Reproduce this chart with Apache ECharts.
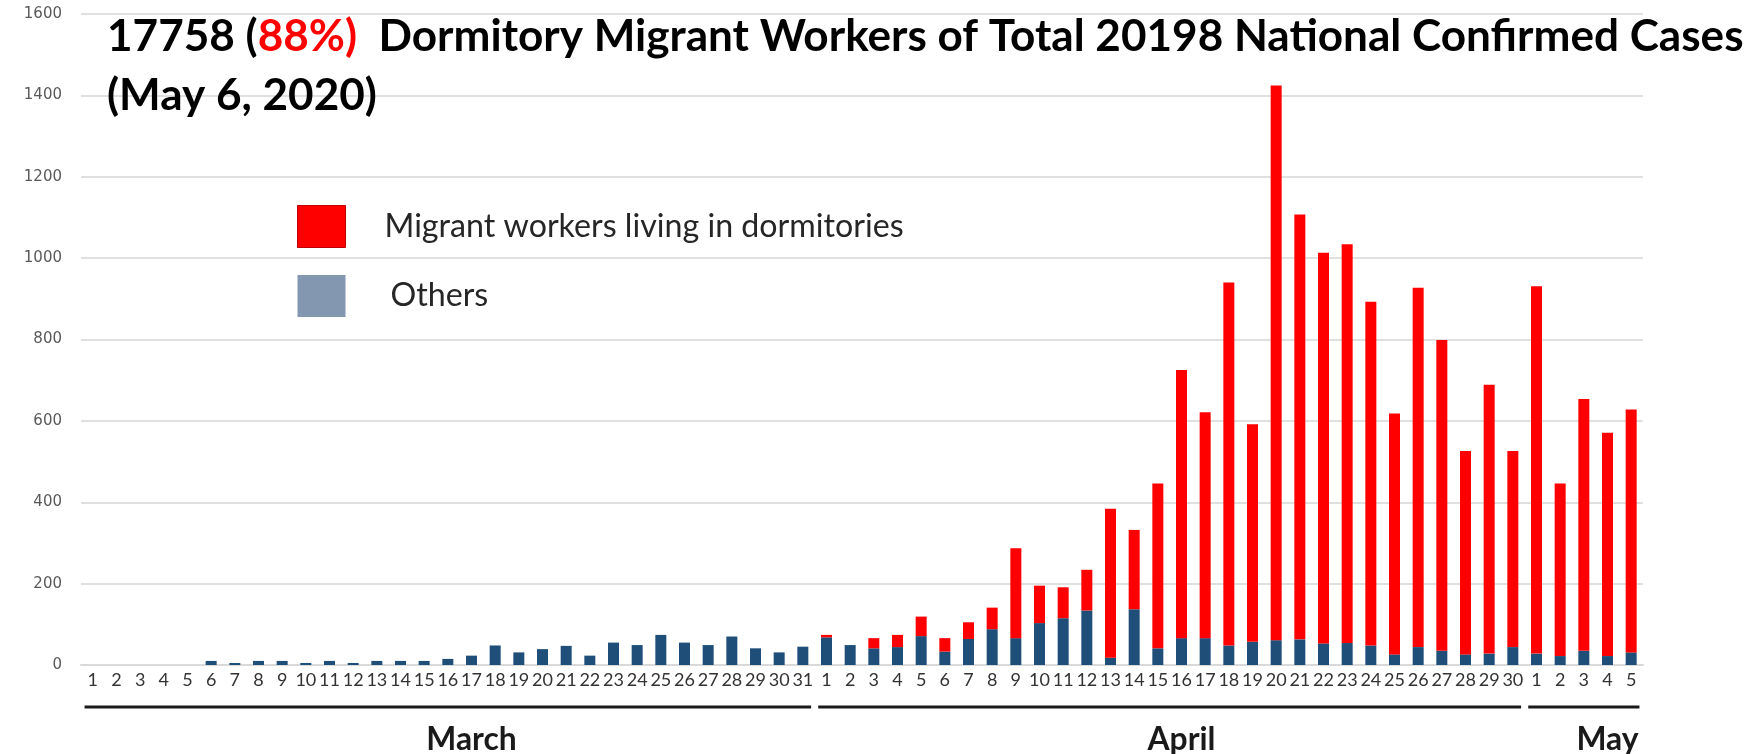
<!DOCTYPE html>
<html>
<head>
<meta charset="utf-8">
<script src="https://cdn.jsdelivr.net/npm/echarts@6/dist/echarts.min.js"></script>
<style>
html,body{margin:0;padding:0;background:#fff;}
#c{width:1757px;height:754px;}
</style>
</head>
<body>
<div id="c"></div>
<script>
// ---------------- data ----------------
const dayLabels = [
 '1','2','3','4','5','6','7','8','9','10','11','12','13','14','15','16','17','18','19','20','21','22','23','24','25','26','27','28','29','30','31',
 '1','2','3','4','5','6','7','8','9','10','11','12','13','14','15','16','17','18','19','20','21','22','23','24','25','26','27','28','29','30',
 '1','2','3','4','5'
];
const monthNames = ['March','April','May'];
const monthDays = [31, 30, 5];
const monthLabelDay = [17, 16, 4];   // day under which the month name sits

const others = [
 0,0,0,0,0,10,5,10,10,5,10,5,10,10,10,15,23,48,31,39,47,23,55,49,74,55,49,70,41,31,45,
 68,49,41,44,71,33,64,88,66,103,115,134,18,137,41,66,66,48,57,61,63,53,54,48,26,44,35,26,28,44,
 28,22,35,22,31
];
const dormitory = [
 0,0,0,0,0,0,0,0,0,0,0,0,0,0,0,0,0,0,0,0,0,0,0,0,0,0,0,0,0,0,0,
 6,0,25,30,48,33,41,53,221,92,76,100,366,195,405,659,555,892,535,1363,1044,960,980,845,592,883,764,500,661,482,
 903,424,619,549,597
];
const yTicks = [0,200,400,600,800,1000,1200,1400,1600];

const seriesNames = ['Migrant workers living in dormitories', 'Others'];
const titleLine1 = ['17758 (', '88%)', '  Dormitory Migrant Workers of Total 20198 National Confirmed Cases'];
const titleLine2 = '(May 6, 2020)';

// ---------------- helpers ----------------
const mctx = document.createElement('canvas').getContext('2d');
function fitSize(text, weight, family, width) {
  mctx.font = weight + ' 100px ' + family;
  const w = mctx.measureText(text).width;
  return Math.round(100 * width / w * 10) / 10;
}
const TITLE_FONT = 'Lato';
const titleSize = fitSize(titleLine1.join(''), 'bold', TITLE_FONT, 1638);
const legendSize = fitSize(seriesNames[0], 'normal', 'Lato', 520);
const monthSize = fitSize('May', 'bold', 'Lato', 62);

const chart = echarts.init(document.getElementById('c'), null, {renderer: 'canvas'});

const option = {
  animation: false,
  backgroundColor: '#ffffff',
  title: {
    left: 102, top: 2.5,
    text: '{b|' + titleLine1[0] + '}{r|' + titleLine1[1] + '}{b|' + titleLine1[2] + '}\n{b|' + titleLine2 + '}',
    textStyle: {
      lineHeight: 59,
      rich: {
        b: {color: '#000', fontSize: titleSize, fontWeight: 'bold', fontFamily: TITLE_FONT, lineHeight: 59},
        r: {color: '#ff0000', fontSize: titleSize, fontWeight: 'bold', fontFamily: TITLE_FONT, lineHeight: 59}
      }
    }
  },
  legend: {
    orient: 'vertical',
    left: 292, top: 200,
    itemWidth: 48, itemHeight: 42, itemGap: 27,
    icon: 'rect',
    selectedMode: false,
    textStyle: {fontFamily: 'Lato', fontSize: legendSize, color: '#262626', padding: [0,0,0,34]},
    data: [
      {name: seriesNames[0], itemStyle: {color: '#ff0000', borderColor: '#c00000', borderWidth: 1}},
      {name: seriesNames[1], itemStyle: {color: '#8497b0'}, textStyle: {padding: [0,0,0,40]}}
    ]
  },
  grid: {left: 81, right: 114, top: 14, bottom: 89, containLabel: false},
  xAxis: {
    type: 'category',
    data: dayLabels,
    axisLine: {show: true, lineStyle: {color: '#d9d9d9', width: 2}},
    axisTick: {show: false},
    axisLabel: {interval: 0, margin: 6, fontFamily: 'Lato', fontSize: 18, color: '#333333'},
    splitLine: {show: false}
  },
  yAxis: {
    type: 'value',
    min: yTicks[0], max: yTicks[yTicks.length - 1], interval: yTicks[1] - yTicks[0],
    axisLine: {show: false},
    axisTick: {show: false},
    axisLabel: {margin: 19, fontFamily: 'DejaVu Sans', fontSize: 15, color: '#595959',
                formatter: function (v) { return String(v); }},
    splitLine: {lineStyle: {color: '#e0e0e0', width: 2}}
  },
  series: [
    {name: seriesNames[1], type: 'bar', stack: 'total', data: others, barWidth: 11,
     itemStyle: {color: '#1f4e79'}},
    {name: seriesNames[0], type: 'bar', stack: 'total', data: dormitory, barWidth: 11,
     itemStyle: {color: '#fe0000'}}
  ]
};
chart.setOption(option);

// month brackets and names, positioned from the category axis
const graphics = [];
let start = 0;
const step = chart.convertToPixel({xAxisIndex: 0}, 1) - chart.convertToPixel({xAxisIndex: 0}, 0);
for (let m = 0; m < monthNames.length; m++) {
  const first = start, last = start + monthDays[m] - 1;
  const x0 = chart.convertToPixel({xAxisIndex: 0}, first);
  const x1 = chart.convertToPixel({xAxisIndex: 0}, last);
  graphics.push({
    type: 'line', silent: true,
    shape: {x1: x0 - step * 0.35, y1: 707, x2: x1 + step * 0.35, y2: 707},
    style: {stroke: '#1a1a1a', lineWidth: 3}
  });
  const lx = chart.convertToPixel({xAxisIndex: 0}, start + monthLabelDay[m] - 1);
  graphics.push({
    type: 'text', silent: true, x: lx, y: 756,
    style: {text: monthNames[m], fill: '#1a1a1a', font: 'bold ' + monthSize + 'px Lato',
            textAlign: 'center', textVerticalAlign: 'bottom'}
  });
  start += monthDays[m];
}
chart.setOption({graphic: graphics});
</script>
</body>
</html>
